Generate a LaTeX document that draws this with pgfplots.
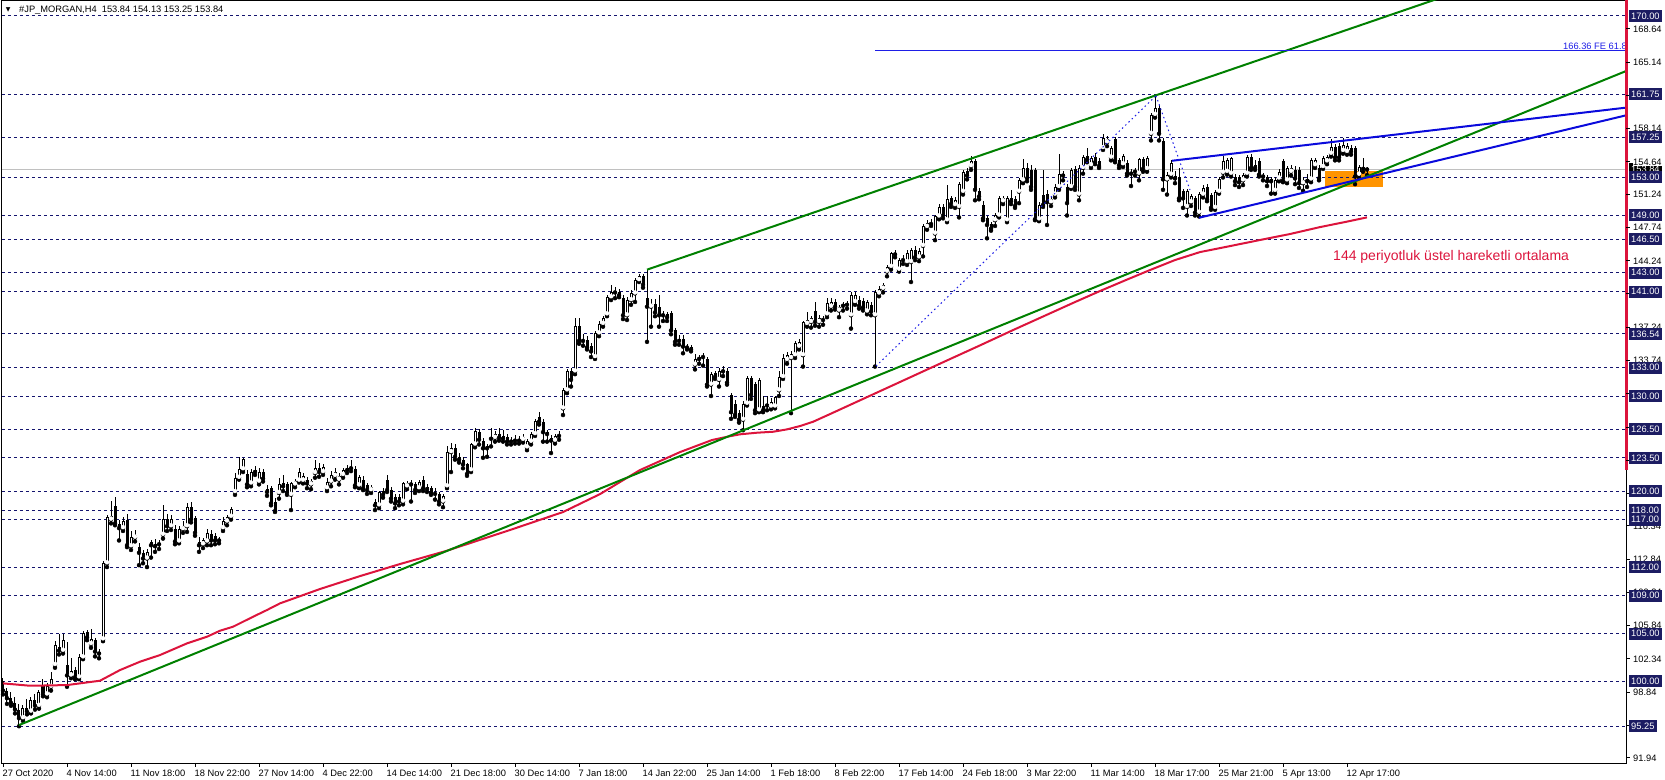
\documentclass[border=0pt]{standalone}
\usepackage{pgfplots}
\pgfplotsset{compat=1.18}
\usepackage{pgfplotstable}
\usepackage{fontspec}
\setmainfont{Liberation Sans}
\newfontfamily\dejavu{DejaVu Sans}
\definecolor{navyline}{RGB}{20,20,110}
\definecolor{navybox}{RGB}{28,28,98}
\definecolor{trendgreen}{RGB}{0,128,0}
\definecolor{emared}{RGB}{220,20,60}
\definecolor{wedgeblue}{RGB}{10,10,220}
\definecolor{fibblue}{RGB}{30,30,230}
\definecolor{bidgrey}{RGB}{192,192,192}
\definecolor{boxorange}{RGB}{255,148,0}
\newcommand{\lbl}{\fontsize{9.3}{11}\selectfont}

\pgfplotstableread{
x o h l c
3 100.0 100.3 98.6 99.0
7 99.0 99.3 97.6 98.2
11 98.2 98.8 97.4 97.7
15 97.7 98.3 96.6 97.0
19 97.0 97.6 95.25 96.1
23 96.1 97.5 95.8 97.2
27 97.2 98.1 96.5 96.8
31 96.8 98.3 96.6 98.0
35 98.0 98.6 97.0 97.4
39 97.4 99.1 97.1 98.8
43 99.5 100.2 98.4 98.6
47 98.6 99.8 98.3 99.5
51 99.4 101.0 99.0 100.2
55 101.7 104.2 101.4 103.8
59 103.6 105.0 102.8 103.2
63 103.2 105.0 102.9 104.3
67 101.7 104.1 99.4 100.6
71 100.6 102.4 100.3 101.1
75 101.2 101.5 100.2 100.4
79 100.4 102.8 100.2 102.5
83 102.5 105.3 102.3 105.1
87 105.2 105.4 104.3 104.6
91 103.9 105.5 103.5 104.4
95 104.3 104.5 102.6 103.1
99 103.1 103.4 102.4 102.9
103 104.4 112.6 104.2 112.4
107 112.4 117.5 112.0 117.3
111 117.0 119.0 116.6 117.4
115 118.4 119.4 116.4 116.6
119 116.5 117.0 114.8 116.1
123 116.1 117.3 115.8 116.8
127 117.0 117.6 114.1 114.3
131 114.2 115.8 113.8 115.2
135 115.1 115.9 114.7 115.4
139 114.1 114.5 112.2 113.5
143 113.5 113.8 112.4 112.9
147 112.9 113.9 112.0 113.6
151 114.6 114.9 113.0 114.3
155 114.2 115.0 113.6 114.4
159 114.4 114.8 113.9 114.5
163 115.4 118.5 115.0 117.1
167 117.1 117.6 115.8 116.3
171 116.3 117.5 115.9 117.1
175 116.0 116.4 114.4 114.7
179 114.7 116.3 114.5 116.0
183 116.0 116.8 115.6 116.3
187 116.3 118.7 115.7 118.3
191 118.3 118.8 116.7 117.0
195 117.2 117.4 115.3 115.6
199 114.6 115.2 113.6 114.3
203 114.4 115.1 114.0 114.8
207 114.7 116.0 114.3 115.6
211 115.5 115.9 114.3 114.8
215 115.3 115.6 114.4 114.8
219 114.8 115.2 114.5 114.9
223 116.1 117.3 115.8 116.8
227 116.8 117.5 116.4 117.3
231 117.3 118.3 117.0 118.1
235 119.9 121.9 119.6 121.4
239 121.4 123.6 121.2 122.3
243 122.3 123.5 122.0 123.4
247 121.8 122.2 120.4 120.7
251 120.8 122.3 120.5 122.0
255 122.0 122.6 121.7 122.2
259 121.0 122.4 120.7 122.0
263 122.0 122.3 121.0 121.3
267 120.2 120.6 119.5 119.9
271 120.3 120.5 118.5 118.7
275 118.9 119.3 117.8 117.9
279 119.8 121.4 119.2 120.7
283 120.8 121.7 120.0 120.5
287 120.7 121.0 119.6 119.8
291 119.6 121.0 118.0 120.8
295 120.7 121.3 120.4 121.1
299 121.1 122.4 120.9 122.0
303 121.1 121.9 120.8 121.6
307 121.2 121.5 120.3 120.8
311 120.7 121.3 120.2 121.1
315 121.9 123.3 121.4 122.4
319 122.4 122.9 121.5 122.0
323 122.0 122.8 121.7 122.5
327 120.3 121.4 120.0 121.0
331 121.0 122.1 120.5 121.7
335 121.6 122.4 121.2 122.0
339 121.2 121.9 120.7 121.6
343 121.7 122.4 121.4 122.2
347 122.2 122.7 121.9 122.4
351 122.4 123.3 122.1 122.5
355 122.3 122.6 120.4 120.6
359 120.6 121.7 120.3 121.5
363 121.2 121.6 120.1 120.3
367 120.6 120.8 119.7 120.1
371 120.1 120.6 119.8 120.4
375 118.9 119.2 118.0 118.5
379 118.5 120.0 118.2 119.9
383 120.0 120.3 119.3 119.6
387 121.2 121.7 119.9 120.1
391 120.1 120.4 118.9 119.2
395 119.4 119.7 118.2 118.7
399 119.4 119.7 118.5 118.9
403 118.9 121.0 118.6 120.8
407 120.5 121.1 120.2 120.8
411 120.8 121.2 118.9 120.7
415 120.7 121.0 119.8 120.1
419 120.3 121.2 120.0 121.0
423 121.2 121.6 120.0 120.3
427 120.4 120.7 119.9 120.2
431 120.3 120.5 119.6 119.8
435 119.8 120.3 119.1 119.7
439 119.7 119.9 118.6 118.9
443 118.9 119.7 118.3 119.5
447 120.5 124.7 120.3 124.1
451 124.1 125.1 122.0 124.5
455 124.5 124.9 123.3 123.6
459 123.6 124.0 123.0 123.3
463 123.3 123.6 122.4 122.8
467 122.8 123.0 121.6 121.8
471 122.2 125.1 122.0 124.9
475 124.9 126.6 124.6 126.3
479 126.2 126.5 124.9 125.4
483 125.3 125.6 123.5 124.5
487 124.5 125.0 123.6 124.7
491 125.5 126.6 124.7 125.7
495 125.6 126.3 125.2 126.0
499 126.0 126.6 125.3 125.6
503 125.8 126.4 125.2 125.5
507 125.7 126.0 124.9 125.2
511 125.2 125.7 124.9 125.4
515 125.4 125.9 125.0 125.3
519 125.3 125.8 125.0 125.4
523 125.4 126.0 125.1 125.7
527 124.6 125.5 124.3 125.3
531 125.2 126.2 124.9 126.0
535 126.0 127.6 125.8 127.4
539 127.8 128.3 127.0 127.3
543 127.3 127.6 125.2 126.2
547 126.2 126.4 125.2 126.0
551 125.6 125.9 124.0 125.3
555 125.3 126.0 125.0 125.8
559 125.8 126.3 125.4 125.9
563 128.7 130.8 128.0 130.6
567 130.6 132.8 130.3 132.6
571 132.6 133.0 131.0 131.7
575 132.6 138.2 132.3 137.4
579 137.4 138.2 135.5 135.8
583 135.8 136.5 135.3 135.9
587 135.9 136.3 134.9 135.1
591 135.3 135.6 134.1 134.7
595 134.1 136.8 133.9 136.6
599 136.6 137.9 136.3 137.6
603 137.6 138.4 137.3 138.2
607 138.6 140.6 138.4 140.4
611 140.4 141.7 140.1 141.0
615 140.9 141.5 140.3 141.0
619 141.0 141.3 140.4 140.6
623 140.3 140.6 138.1 138.5
627 138.5 140.4 138.0 140.1
631 140.1 141.2 139.6 140.8
635 140.8 142.4 139.9 142.2
639 142.2 142.8 142.0 142.6
643 142.6 142.8 141.4 141.7
647 140.3 143.3 135.7 139.4
651 139.4 140.2 137.3 139.7
655 139.7 140.2 138.4 138.8
659 139.4 140.6 137.3 138.5
663 138.5 138.9 137.9 138.6
667 138.6 138.8 137.9 138.3
671 138.7 139.0 136.5 136.9
675 136.9 137.2 135.4 135.7
679 135.8 136.4 135.4 136.0
683 136.0 136.4 134.5 135.2
687 135.2 135.5 134.9 135.1
691 135.2 135.4 134.7 134.9
695 133.3 134.4 132.8 133.9
699 133.9 134.3 133.4 134.1
703 134.1 134.5 133.2 134.2
707 133.9 134.1 131.0 131.2
711 131.2 132.5 130.0 132.3
715 132.4 132.6 131.8 132.0
719 131.7 133.0 131.0 132.6
723 132.6 133.2 132.1 132.7
727 132.6 132.9 131.2 131.4
731 130.1 130.3 127.6 128.3
735 129.2 129.6 127.8 128.0
739 128.2 128.5 127.2 127.5
743 127.5 129.5 126.4 129.2
747 129.2 132.1 129.0 131.9
751 131.9 132.1 129.7 130.1
755 131.3 131.5 128.2 128.5
759 128.5 131.9 128.3 131.7
763 128.9 130.0 128.3 128.5
767 129.0 130.0 128.5 129.2
771 128.9 129.8 128.6 129.4
775 128.9 130.0 128.7 129.9
779 130.6 132.6 130.0 132.0
783 132.0 134.4 131.8 134.0
787 133.8 134.6 133.4 134.3
791 134.0 134.7 128.2 134.4
795 134.3 135.8 134.0 135.6
799 135.2 136.0 134.9 135.7
803 134.3 137.9 133.1 137.8
807 137.6 138.8 137.3 138.0
811 137.8 138.4 137.2 138.2
815 138.9 139.9 137.4 137.8
819 137.8 138.5 137.3 138.2
823 138.0 138.4 137.5 138.1
827 138.6 140.3 138.3 139.8
831 139.4 140.3 139.0 139.9
835 139.9 140.2 139.1 139.4
839 139.0 139.6 138.3 139.4
843 139.5 139.9 139.0 139.7
847 139.7 140.0 139.2 139.6
851 138.5 141.0 137.1 140.6
855 139.9 141.0 139.6 140.6
859 140.1 140.5 139.2 139.5
863 140.0 140.3 139.0 139.3
867 138.9 140.1 138.6 139.9
871 139.6 139.9 138.5 138.9
875 138.5 141.2 133.1 141.0
879 140.8 141.6 140.5 141.3
883 141.3 141.9 140.9 141.7
887 143.1 143.8 142.6 143.6
891 143.6 145.2 143.3 145.0
895 145.0 145.4 144.6 144.9
899 143.3 144.5 143.1 144.3
903 144.3 144.8 143.9 144.4
907 144.1 145.4 143.8 145.1
911 144.1 145.6 142.0 145.4
915 145.4 145.8 144.3 144.6
919 144.6 145.6 144.2 145.3
923 145.8 148.1 144.7 147.9
927 147.8 148.5 147.5 148.2
931 148.2 148.6 147.9 148.1
935 147.1 149.1 146.4 148.9
939 148.9 150.2 148.6 149.9
943 149.9 150.2 148.7 149.0
947 148.5 152.2 148.3 150.7
951 150.8 151.1 149.9 150.2
955 150.1 150.9 149.8 150.6
959 149.9 152.5 148.8 152.3
963 151.5 153.8 151.2 153.6
967 153.7 154.0 152.8 153.2
971 154.2 155.3 153.8 154.7
975 154.7 154.9 150.6 151.7
979 151.6 151.9 150.7 151.0
983 150.1 150.5 148.5 148.7
987 148.7 148.9 146.6 148.0
991 148.1 148.3 147.4 147.6
995 148.5 149.3 147.9 149.0
999 149.0 151.0 148.8 150.8
1003 150.5 151.1 150.2 150.8
1007 148.5 151.0 148.3 150.8
1011 150.8 151.7 150.2 150.5
1015 150.7 151.0 149.8 150.0
1019 151.5 152.9 150.3 152.7
1023 152.7 154.9 152.4 154.0
1027 154.0 154.5 152.6 152.9
1031 153.8 154.3 151.7 152.0
1035 153.8 154.0 148.5 148.6
1039 148.6 150.4 148.4 150.1
1043 151.2 153.8 149.9 150.1
1047 151.3 151.7 148.0 150.4
1051 150.4 151.0 150.0 150.7
1055 151.2 152.3 150.9 152.0
1059 152.0 155.5 151.7 153.4
1063 153.4 153.7 152.7 153.2
1067 152.0 152.3 149.0 150.3
1071 152.0 154.0 151.8 153.8
1075 153.9 154.2 151.7 152.0
1079 151.2 154.3 150.6 154.0
1083 154.0 155.4 153.4 155.2
1087 155.3 156.1 154.6 154.9
1091 154.3 155.3 154.0 155.1
1095 155.2 155.6 154.4 154.6
1099 154.7 155.0 154.0 154.2
1103 156.1 157.6 155.9 157.2
1107 156.7 157.4 156.3 157.1
1111 155.1 156.3 154.8 156.1
1115 157.0 157.3 154.6 154.8
1119 154.8 155.1 154.0 154.3
1123 154.4 155.5 154.1 155.3
1127 154.5 154.8 153.2 153.4
1131 153.4 153.9 152.1 153.6
1135 153.6 154.0 153.2 153.7
1139 153.4 155.1 152.7 154.9
1143 154.9 155.2 153.6 153.9
1147 153.9 155.3 153.6 155.1
1151 157.6 159.8 156.9 159.6
1155 159.6 161.7 159.3 160.3
1159 160.3 160.6 156.9 157.6
1163 156.8 157.2 151.7 152.8
1167 152.8 153.6 151.2 153.3
1171 153.3 154.8 153.0 154.5
1175 153.2 153.7 152.4 152.9
1179 153.1 154.0 150.6 150.8
1183 151.6 151.8 149.8 150.8
1187 149.9 151.8 149.0 151.6
1191 150.4 151.3 150.0 151.0
1195 150.8 151.0 149.0 149.3
1199 149.3 151.5 148.9 151.3
1203 151.2 152.2 150.9 151.9
1207 152.0 152.3 150.5 150.7
1211 151.2 151.4 149.6 149.8
1215 149.8 151.7 149.6 151.5
1219 151.5 153.0 151.3 152.8
1223 153.5 155.3 153.0 154.7
1227 153.6 155.0 153.3 154.8
1231 153.4 155.2 153.1 155.0
1235 153.1 153.4 152.2 152.6
1239 153.1 153.3 152.0 152.5
1243 152.7 153.5 152.2 153.3
1247 153.4 155.4 153.1 155.2
1251 155.2 155.5 153.8 154.0
1255 154.3 154.8 153.8 154.0
1259 154.7 155.0 153.1 153.3
1263 153.3 153.5 152.7 153.1
1267 153.1 153.3 152.1 152.6
1271 152.6 153.1 151.3 152.8
1275 151.6 153.0 151.3 152.7
1279 152.9 153.9 152.6 153.6
1283 154.7 154.9 152.5 152.7
1287 152.7 154.2 152.4 154.0
1291 153.6 154.3 153.2 154.0
1295 153.8 154.2 152.3 152.9
1299 153.8 154.1 151.9 152.4
1303 152.4 153.0 151.6 152.7
1307 152.6 153.4 152.0 152.8
1311 152.8 155.0 152.5 154.8
1315 154.3 155.1 154.0 154.8
1319 154.0 154.3 152.7 152.9
1323 154.1 155.3 153.9 155.0
1327 154.7 155.4 154.4 155.2
1331 155.5 157.0 155.2 156.2
1335 156.2 156.5 154.8 155.1
1339 156.3 156.6 154.8 155.1
1343 155.8 157.2 155.5 156.4
1347 155.7 156.6 155.4 156.3
1351 156.1 156.4 155.4 155.7
1355 156.1 156.3 152.3 153.1
1359 153.3 154.3 153.0 154.1
1363 154.1 155.0 153.6 153.9
1367 153.84 154.13 153.25 153.84
}\candles

\begin{document}
\begin{tikzpicture}
\useasboundingbox (0pt,0pt) rectangle (1665pt,779pt);
\begin{axis}[
  at={(2pt,16pt)}, anchor=south west,
  scale only axis, width=1624pt, height=762pt,
  xmin=2, xmax=1626, ymin=91.38, ymax=171.574,
  xtick=\empty, ytick=\empty,
  axis line style={line width=1pt, black},
  clip mode=individual,
]
% orange zone
\fill[boxorange] (axis cs:1325,153.71) rectangle (axis cs:1383,152.03);
% bid line
\addplot[bidgrey, line width=1pt] coordinates {(2,153.84) (1626,153.84)};
% horizontal levels
\pgfplotsinvokeforeach{170,161.75,157.25,153,149,146.5,143,141,136.54,133,130,126.5,123.5,120,118,117,112,109,105,100,95.25}{
  \addplot[navyline, line width=1pt, dash pattern=on 3pt off 3pt] coordinates {(2,#1) (1626,#1)};
}
% wicks
\addplot[only marks, mark=none, black,
  error bars/.cd, y dir=plus, y explicit, error mark=none,
  error bar style={draw=black, line width=1pt, solid}]
  table[x=x, y=l, y error expr=\thisrow{h}-\thisrow{l}] {\candles};
% bodies (outline / bearish fill)
\addplot[only marks, mark=none, black,
  error bars/.cd, y dir=plus, y explicit, error mark=none,
  error bar style={draw=black, line width=3pt, solid}]
  table[x=x, y expr={min(\thisrow{o},\thisrow{c})}, y error expr={max(abs(\thisrow{c}-\thisrow{o}),0.11)}] {\candles};
% bullish hollow interior
\addplot[only marks, mark=none, white,
  restrict expr to domain={\thisrow{c}-\thisrow{o}}{0.22:1000},
  error bars/.cd, y dir=plus, y explicit, error mark=none,
  error bar style={draw=white, line width=1pt, solid}]
  table[x=x, y expr=\thisrow{o}+0.105, y error expr=\thisrow{c}-\thisrow{o}-0.21] {\candles};
% EMA 144
\addplot[emared, line width=2pt, line join=round] coordinates {
(3,99.76) (30,99.51) (67,99.58) (100,100.04) (120,101.16) (140,102.04) (160,102.74) (187,103.97) (207,104.67) (220,105.30) (233,105.72) (253,106.77) (267,107.48) (280,108.18) (320,109.69) (360,111.05) (400,112.32) (446,113.69) (510,115.90) (563,117.79) (600,119.68) (640,122.21) (680,124.10) (712,125.37) (727,125.71) (740,125.97) (757,126.14) (773,126.24) (787,126.49) (800,126.84) (813,127.29) (830,128.10) (870,130.03) (910,131.96) (950,133.89) (980,135.33) (1013,136.94) (1050,138.70) (1075,139.89) (1100,141.05) (1126,142.21) (1150,143.26) (1175,144.31) (1200,145.15) (1230,145.78) (1260,146.42) (1290,147.05) (1320,147.78) (1345,148.31) (1367,148.80)};
% trend channel
\addplot[trendgreen, line width=2pt] coordinates {(19,95.37) (1626,164.20)};
\addplot[trendgreen, line width=2pt] coordinates {(647,143.3) (1626,178.6)};
% wedge
\addplot[wedgeblue, line width=2pt] coordinates {(1172,154.76) (1626,160.35)};
\addplot[wedgeblue, line width=2pt] coordinates {(1199,148.76) (1626,159.54)};
% fibo expansion
\addplot[fibblue, line width=1pt, dash pattern=on 1.5pt off 3pt] coordinates {(876,133.15) (1156,161.6)};
\addplot[fibblue, line width=1pt, dash pattern=on 1.5pt off 3pt] coordinates {(1156,161.6) (1190,151.68)};
\addplot[fibblue, line width=1pt] coordinates {(875,166.36) (1626,166.36)};
\end{axis}

% ---- price scale and labels (price coordinates) ----
\begin{scope}[x=1pt, y=9.502pt, shift={(0pt,-852.293pt)}]
\node[anchor=base east, inner sep=0pt, font=\lbl, text=fibblue] at (1627,166.46) {166.36 FE 61.8};
\draw[emared, line width=3.5pt] (1626.4,122.2) -- (1626.4,171.7);
\foreach \v in {168.64,165.14,161.64,158.14,154.64,151.24,147.74,144.24,140.74,137.24,133.74,130.24,126.74,123.24,119.74,116.34,112.84,109.34,105.84,102.34,98.84,95.34,91.94}{
  \draw[black, line width=1pt] (1626,\v) -- (1630,\v);
}
\node[anchor=west, fill=black, text=white, inner xsep=2.5pt, inner ysep=0pt, minimum height=12pt, text height=6.7pt, text depth=0pt, font=\lbl] at (1628.5,153.84) {153.84};
\foreach \v in {168.64,165.14,161.64,158.14,154.64,151.24,147.74,144.24,140.74,137.24,133.74,130.24,126.74,123.24,119.74,116.34,112.84,109.34,105.84,102.34,98.84,95.34,91.94}{
  \node[anchor=west, fill=white, inner xsep=0pt, inner ysep=0.8pt, text height=6.7pt, text depth=0pt, font=\lbl] at (1633,\v) {\v};
}
\foreach \v in {170.00,161.75,157.25,153.00,149.00,146.50,143.00,141.00,136.54,133.00,130.00,126.50,123.50,120.00,118.00,117.00,112.00,109.00,105.00,100.00,95.25}{
  \node[anchor=west, fill=navybox, text=white, inner xsep=2.5pt, inner ysep=0pt, minimum height=12pt, text height=6.7pt, text depth=0pt, font=\lbl] at (1628.5,\v) {\v};
}
\end{scope}

% ---- time scale, title, annotation (pixel coordinates) ----
\begin{scope}[x=1pt, y=1pt]
\foreach \xx/\lab in {3/27 Oct 2020, 67/4 Nov 14:00, 131/11 Nov 18:00, 195/18 Nov 22:00, 259/27 Nov 14:00, 323/4 Dec 22:00, 387/14 Dec 14:00, 451/21 Dec 18:00, 515/30 Dec 14:00, 579/7 Jan 18:00, 643/14 Jan 22:00, 707/25 Jan 14:00, 771/1 Feb 18:00, 835/8 Feb 22:00, 899/17 Feb 14:00, 963/24 Feb 18:00, 1027/3 Mar 22:00, 1091/11 Mar 14:00, 1155/18 Mar 17:00, 1219/25 Mar 21:00, 1283/5 Apr 13:00, 1347/12 Apr 17:00}{
  \draw[black, line width=1pt] (\xx,16) -- (\xx,12);
  \node[anchor=north west, inner sep=0pt, text height=6.7pt, text depth=0pt, font=\lbl, xshift=-0.5pt] at (\xx,9.8) {\lab};
}
\node[anchor=center, inner sep=0pt, font=\dejavu\fontsize{6}{6}\selectfont] at (8.3,768.6) {▼};
\node[anchor=base west, inner sep=0pt, font=\lbl] at (19,766) {\#JP\_MORGAN,H4\ \ 153.84 154.13 153.25 153.84};
\node[anchor=west, inner sep=0pt, font=\fontsize{14}{16}\selectfont, text=emared] at (1333,522) {144 periyotluk üstel hareketli ortalama};
\end{scope}
\end{tikzpicture}
\end{document}
